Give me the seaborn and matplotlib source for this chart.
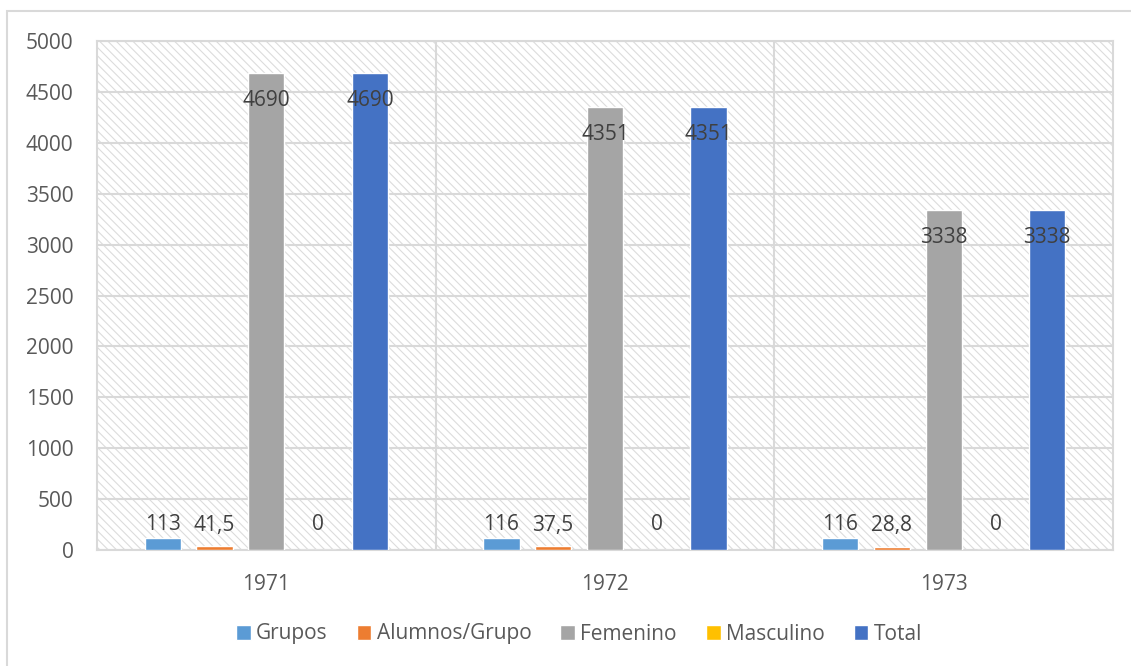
import matplotlib
matplotlib.use("Agg")
import matplotlib.pyplot as plt
from matplotlib.patches import Rectangle
import seaborn as sns
import pandas as pd

# Data
years = ["1971", "1972", "1973"]
series = ["Grupos", "Alumnos/Grupo", "Femenino", "Masculino", "Total"]
grupos = [113, 116, 116]
alumnos_grupo = [41.5, 37.5, 28.8]
femenino = [4690, 4351, 3338]
masculino = [0, 0, 0]
total = [4690, 4351, 3338]
y_ticks = list(range(0, 5001, 500))

colors = ["#5B9BD5", "#ED7D31", "#A5A5A5", "#FFC000", "#4472C4"]

values = [grupos, alumnos_grupo, femenino, masculino, total]
rows = []
for name, vals in zip(series, values):
    for yr, v in zip(years, vals):
        rows.append({"year": yr, "serie": name, "value": v})
df = pd.DataFrame(rows)

sns.set_style("white")
plt.rcParams["font.family"] = ["Open Sans", "DejaVu Sans"]
plt.rcParams["hatch.color"] = "#dcdcdc"
plt.rcParams["hatch.linewidth"] = 0.8

fig = plt.figure(figsize=(11.31, 6.66), dpi=100)
ax = fig.add_axes([97 / 1131, 1 - 550 / 666, (1113 - 97) / 1131, (550 - 41) / 666])

# hatched plot area background
bg = Rectangle((0, 0), 1, 1, transform=ax.transAxes, facecolor="white",
               edgecolor="#dcdcdc", hatch="\\\\\\\\", linewidth=0, zorder=0)
ax.add_patch(bg)

sns.barplot(data=df, x="year", y="value", hue="serie", hue_order=series,
            palette=colors, width=0.765, gap=0.3, saturation=1,
            ax=ax, zorder=3)

ax.set_ylim(0, 5000)
ax.set_yticks(y_ticks)
ax.set_xlim(-0.5, len(years) - 0.5)
ax.set_xlabel("")
ax.set_ylabel("")
ax.grid(axis="y", color="#d9d9d9", linewidth=1.5, zorder=1)
for b in [0.5, 1.5]:
    ax.axvline(b, color="#d9d9d9", linewidth=1.5, zorder=1)
ax.set_axisbelow(True)
for s in ax.spines.values():
    s.set_color("#d9d9d9")
    s.set_linewidth(1.5)
ax.tick_params(axis="both", length=0, labelsize=15, labelcolor="#595959")
ax.tick_params(axis="y", pad=17)
ax.tick_params(axis="x", pad=17)

# data labels
for cont in ax.containers:
    for bar in cont:
        h = bar.get_height()
        txt = f"{h:g}".replace(".", ",")
        xc = bar.get_x() + bar.get_width() / 2
        if h < 500:
            ax.annotate(txt, (xc, 0), xytext=(0, 18), textcoords="offset points",
                        ha="center", va="center", fontsize=15, color="#404040", zorder=5)
        else:
            ax.annotate(txt, (xc, h), xytext=(0, -20), textcoords="offset points",
                        ha="center", va="center", fontsize=15, color="#404040", zorder=5)

handles, labels = ax.get_legend_handles_labels()
ax.get_legend().remove()
fig.legend(handles, labels, loc="center", bbox_to_anchor=(579 / 1131, 1 - 634 / 666),
           ncol=5, frameon=False, fontsize=15, labelcolor="#595959",
           handlelength=0.7, handleheight=0.7, handletextpad=0.25, columnspacing=1.4)

# outer chart frame
fig.patches.append(Rectangle((7 / 1131, -0.1), 1.2, 1.1 - 11 / 666,
                             transform=fig.transFigure, fill=False,
                             edgecolor="#d9d9d9", linewidth=1.5))

fig.savefig("out.png", dpi=100)
